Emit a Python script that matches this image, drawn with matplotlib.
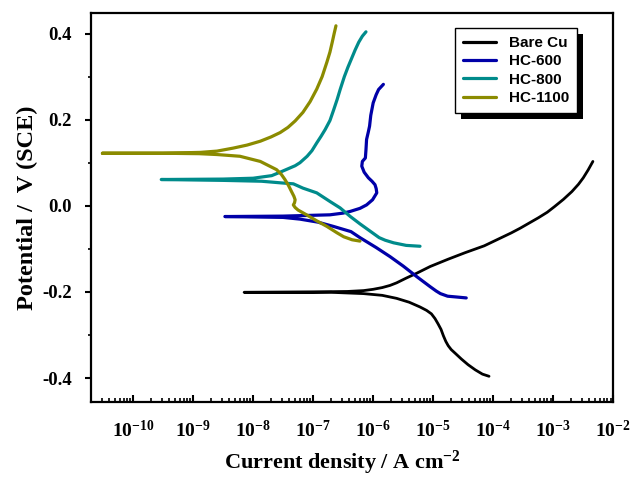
#!/usr/bin/env python3
"""
Potentiodynamic polarization (Tafel) curves: bare Cu vs HC-coated samples.
"""
import matplotlib
matplotlib.use("Agg")
import matplotlib.pyplot as plt
import matplotlib.ticker as mticker
from matplotlib.patches import Rectangle
import numpy as np

# ── Data: log10(current density / A cm^-2) and potential (V vs SCE) ──────
# Each sample has an anodic and a cathodic branch, both starting at Ecorr.
cu_anodic_logi = [-8.15, -7.0, -6.43, -6.16, -6.0, -5.85, -5.72, -5.61, -5.45, -5.28,
                  -5.05, -4.75, -4.47, -4.15, -3.88, -3.70, -3.55, -3.40, -3.25, -3.10,
                  -2.98, -2.83, -2.69, -2.58, -2.50, -2.42, -2.34]
cu_anodic_e = [-0.201, -0.200, -0.199, -0.197, -0.194, -0.190, -0.185, -0.179, -0.168, -0.157,
               -0.141, -0.124, -0.109, -0.093, -0.075, -0.063, -0.052, -0.040, -0.028, -0.015,
               -0.002, 0.015, 0.033, 0.050, 0.065, 0.083, 0.103]
cu_cathodic_logi = [-8.15, -6.7, -6.16, -5.85, -5.61, -5.40, -5.22, -5.11, -5.03, -4.97,
                    -4.92, -4.87, -4.83, -4.79, -4.75, -4.70, -4.63, -4.53, -4.42, -4.30,
                    -4.18, -4.07]
cu_cathodic_e = [-0.201, -0.201, -0.204, -0.208, -0.215, -0.224, -0.235, -0.243, -0.251, -0.262,
                 -0.274, -0.287, -0.302, -0.315, -0.325, -0.334, -0.343, -0.356, -0.369, -0.381,
                 -0.391, -0.396]

hc600_anodic_logi = [-8.47, -7.5, -6.72, -6.50, -6.38, -6.22, -6.11, -6.01, -5.94, -5.95,
                     -5.97, -6.02, -6.08, -6.15, -6.19, -6.18, -6.13, -6.12, -6.11, -6.08,
                     -6.06, -6.04, -6.00, -5.95, -5.91, -5.83]
hc600_anodic_e = [-0.025, -0.024, -0.021, -0.017, -0.013, -0.006, 0.002, 0.014, 0.030, 0.040,
                  0.049, 0.057, 0.065, 0.078, 0.092, 0.103, 0.111, 0.130, 0.154, 0.172,
                  0.185, 0.210, 0.239, 0.258, 0.270, 0.282]
hc600_cathodic_logi = [-8.47, -7.5, -7.22, -6.92, -6.66, -6.37, -6.22, -5.95, -5.72,
                       -5.50, -5.27, -5.05, -4.95, -4.88, -4.76, -4.60, -4.45]
hc600_cathodic_e = [-0.025, -0.027, -0.031, -0.038, -0.048, -0.060, -0.074, -0.097, -0.118,
                    -0.140, -0.165, -0.188, -0.198, -0.204, -0.210, -0.212, -0.214]

hc800_anodic_logi = [-9.53, -8.5, -8.0, -7.69, -7.55, -7.40, -7.30, -7.22, -7.10, -7.02,
                     -6.94, -6.87, -6.80, -6.72, -6.66, -6.60, -6.55, -6.48, -6.42, -6.36,
                     -6.30, -6.24, -6.18, -6.12]
hc800_anodic_e = [0.061, 0.062, 0.064, 0.070, 0.078, 0.087, 0.093, 0.100, 0.115, 0.128,
                  0.146, 0.161, 0.177, 0.198, 0.222, 0.247, 0.270, 0.300, 0.322, 0.342,
                  0.362, 0.380, 0.394, 0.404]
hc800_cathodic_logi = [-9.53, -8.5, -7.86, -7.52, -7.33, -7.17, -6.94, -6.72, -6.55,
                       -6.38, -6.22, -6.00, -5.90, -5.80, -5.66, -5.45, -5.22]
hc800_cathodic_e = [0.061, 0.059, 0.057, 0.053, 0.051, 0.041, 0.030, 0.010, -0.005,
                    -0.025, -0.042, -0.064, -0.074, -0.080, -0.086, -0.092, -0.094]

hc1100_anodic_logi = [-10.51, -9.5, -8.88, -8.60, -8.33, -8.10, -7.88, -7.70, -7.55, -7.42,
                      -7.30, -7.17, -7.05, -6.94, -6.85, -6.77, -6.72, -6.68, -6.65, -6.62]
hc1100_anodic_e = [0.122, 0.122, 0.124, 0.127, 0.134, 0.141, 0.150, 0.160, 0.170, 0.182,
                   0.197, 0.217, 0.242, 0.271, 0.300, 0.334, 0.357, 0.381, 0.400, 0.418]
hc1100_cathodic_logi = [-10.51, -9.5, -8.9, -8.6, -8.22, -7.88, -7.61, -7.53, -7.47, -7.41,
                        -7.36, -7.32, -7.30, -7.31, -7.33, -7.30, -7.25, -7.11, -6.94, -6.77,
                        -6.60, -6.49, -6.35, -6.22]
hc1100_cathodic_e = [0.122, 0.122, 0.121, 0.119, 0.115, 0.103, 0.084, 0.073, 0.061, 0.047,
                     0.033, 0.022, 0.014, 0.007, 0.002, -0.004, -0.010, -0.021, -0.035, -0.048,
                     -0.063, -0.072, -0.079, -0.082]

labels = ["Bare Cu", "HC-600", "HC-800", "HC-1100"]
colors = ["#000000", "#0000A8", "#008B8B", "#8B8B00"]
x_decades = list(range(-10, -1))

curves = [
    (cu_anodic_logi, cu_anodic_e, cu_cathodic_logi, cu_cathodic_e),
    (hc600_anodic_logi, hc600_anodic_e, hc600_cathodic_logi, hc600_cathodic_e),
    (hc800_anodic_logi, hc800_anodic_e, hc800_cathodic_logi, hc800_cathodic_e),
    (hc1100_anodic_logi, hc1100_anodic_e, hc1100_cathodic_logi, hc1100_cathodic_e),
]

# ── Style ──────────────────────────────────────────────────────────────────
plt.rcParams["font.family"] = ["Liberation Serif", "DejaVu Serif"]
plt.rcParams["font.weight"] = "bold"
plt.rcParams["mathtext.fontset"] = "custom"
plt.rcParams["mathtext.rm"] = "Liberation Serif:bold"
plt.rcParams["mathtext.bf"] = "Liberation Serif:bold"
plt.rcParams["mathtext.it"] = "Liberation Serif:bold:italic"

fig = plt.figure(figsize=(6.3, 4.79), dpi=100)
ax = fig.add_axes([0.144, 0.1614, 0.8295, 0.8108])

for (a_i, a_e, c_i, c_e), lab, col in zip(curves, labels, colors):
    # cathodic branch reversed, then anodic branch -> one continuous path
    logi = list(reversed(c_i)) + list(a_i[1:])
    e = list(reversed(c_e)) + list(a_e[1:])
    lw = 2.0 if lab == "Bare Cu" else 2.3
    ax.plot(10 ** np.array(logi, dtype=float), e, color=col, lw=lw, label=lab,
            solid_joinstyle="round", solid_capstyle="round")

ax.set_xscale("log")
ax.set_xlim(10 ** -10.705, 1e-2)
ax.set_ylim(-0.455, 0.447)

ax.xaxis.set_major_locator(mticker.FixedLocator([10.0 ** d for d in x_decades]))
ax.xaxis.set_minor_locator(mticker.LogLocator(base=10, subs=np.arange(2, 10), numticks=20))
ax.xaxis.set_minor_formatter(mticker.NullFormatter())
ax.xaxis.set_major_formatter(
    mticker.FuncFormatter(lambda v, _: r"$10^{%d}$" % round(np.log10(v))))
ax.yaxis.set_major_locator(mticker.MultipleLocator(0.2))
ax.yaxis.set_minor_locator(mticker.MultipleLocator(0.1))
ax.yaxis.set_major_formatter(mticker.FuncFormatter(lambda v, _: f"{v:.1f}"))

ax.tick_params(axis="x", which="major", direction="in", length=5, width=1.5,
               labelsize=14, pad=13)
ax.tick_params(axis="x", which="minor", direction="in", length=3, width=1.2)
ax.tick_params(axis="y", which="major", direction="out", length=4.5, width=1.5,
               labelsize=13.5, pad=9)
ax.tick_params(axis="y", which="minor", direction="out", length=2.5, width=1.2)
for sp in ax.spines.values():
    sp.set_linewidth(1.6)

ax.set_xlabel(r"Current density / A cm$^{-2}$", fontsize=16, fontweight="bold")
ax.xaxis.set_label_coords(0.481, -0.122)
ax.set_ylabel("Potential /  V (SCE)", fontsize=17.5, fontweight="bold", labelpad=3)

# ── Legend with hard black drop shadow ────────────────────────────────────
leg = ax.legend(loc="upper right", bbox_to_anchor=(0.930, 0.961), borderaxespad=0,
                frameon=True, fancybox=False, edgecolor="#000000", framealpha=1,
                prop={"family": "Liberation Sans", "weight": "bold", "size": 11},
                handlelength=2.15, handletextpad=0.85, labelspacing=0.28,
                borderpad=0.5)
leg.get_frame().set_linewidth(1.0)
for h in leg.get_lines():
    h.set_linewidth(2.3)

fig.canvas.draw()
bb = leg.get_window_extent()
shadow = Rectangle((bb.x0 + 6, bb.y0 - 6), bb.width, bb.height, transform=None,
                   facecolor="#000000", edgecolor="none", zorder=leg.get_zorder() - 0.5)
ax.add_artist(shadow)

fig.savefig("out.png", dpi=100)
